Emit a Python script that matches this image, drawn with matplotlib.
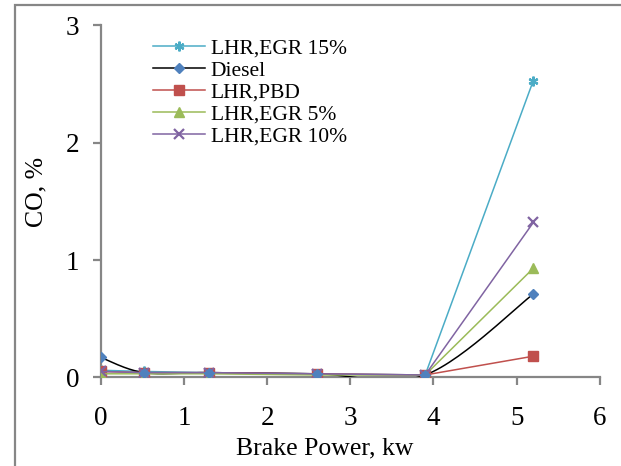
import numpy as np
import matplotlib
matplotlib.use('Agg')
import matplotlib.pyplot as plt
from matplotlib.patches import Rectangle

# Data
brake_power = [0, 0.52, 1.3, 2.6, 3.9, 5.2]
co_egr15 = [0.06, 0.05, 0.04, 0.03, 0.02, 2.53]
co_diesel = [0.17, 0.04, 0.04, 0.03, 0.02, 0.71]
co_pbd = [0.05, 0.04, 0.04, 0.03, 0.02, 0.18]
co_egr5 = [0.03, 0.03, 0.03, 0.02, 0.02, 0.93]
co_egr10 = [0.05, 0.04, 0.04, 0.03, 0.02, 1.32]

SPINE = '#868686'
plt.rcParams['font.family'] = ['Liberation Serif', 'DejaVu Serif']


def smooth(x, y, n=30):
    # Catmull-Rom curve through the points, like Excel's smoothed line
    x = np.asarray(x, float)
    y = np.asarray(y, float)
    px = np.concatenate([[x[0]], x, [x[-1]]])
    py = np.concatenate([[y[0]], y, [y[-1]]])
    xs, ys = [], []
    for i in range(1, len(px) - 2):
        t = np.linspace(0, 1, n)
        for p, out in ((px, xs), (py, ys)):
            p0, p1, p2, p3 = p[i - 1], p[i], p[i + 1], p[i + 2]
            out.extend(0.5 * (2 * p1 + (-p0 + p2) * t
                              + (2 * p0 - 5 * p1 + 4 * p2 - p3) * t ** 2
                              + (-p0 + 3 * p1 - 3 * p2 + p3) * t ** 3))
    return xs, ys


fig = plt.figure(figsize=(6.21, 4.66), dpi=100)
ax = fig.add_axes([0.1622, 0.1903, 0.8038, 0.7552])

# chart area border
fig.patches.append(Rectangle((15 / 621, -0.1), 1.2, 1.1 - 5 / 466, transform=fig.transFigure,
                             fill=False, edgecolor=SPINE, linewidth=1.6))

lw = 1.1
ax.plot(brake_power, co_egr15, color='#4BACC6', lw=lw, marker=(6, 2, 0), ms=7, mew=1.6,
        label='LHR,EGR 15%', zorder=3)
sx, sy = smooth(brake_power, co_diesel)
ax.plot(sx, sy, color='black', lw=lw, zorder=3)
ax.plot(brake_power, co_diesel, color='black', lw=lw, ls='none', marker='D', ms=5.5,
        mfc='#4F81BD', mec='#4F81BD', zorder=4)
ax.plot([], [], color='black', lw=lw, marker='D', ms=5.5, mfc='#4F81BD', mec='#4F81BD',
        label='Diesel')
ax.plot(brake_power, co_pbd, color='#C0504D', lw=lw, marker='s', ms=6.5, label='LHR,PBD', zorder=3)
ax.plot(brake_power, co_egr5, color='#9BBB59', lw=lw, marker='^', ms=7, label='LHR,EGR 5%', zorder=3)
ax.plot(brake_power, co_egr10, color='#8064A2', lw=lw, marker='x', ms=6.5, mew=1.6,
        label='LHR,EGR 10%', zorder=3)

ax.set_xlim(0, 6)
ax.set_ylim(0, 3)
ax.set_xticks(range(7))
ax.set_yticks(range(4))
for s in ('top', 'right'):
    ax.spines[s].set_visible(False)
for s in ('left', 'bottom'):
    ax.spines[s].set_color(SPINE)
    ax.spines[s].set_linewidth(1.6)
ax.tick_params(direction='out', length=5.5, width=1.6, color=SPINE, labelsize=19.5)
ax.tick_params(axis='x', pad=15.5)
ax.tick_params(axis='y', pad=10)
ax.set_xlabel('Brake Power, kw', fontsize=18.5, labelpad=4)
ax.xaxis.label.set_x(0.449)
ax.set_ylabel('CO, %', fontsize=18.5, labelpad=13)
ax.yaxis.label.set_y(0.527)

ax.legend(loc='upper left', bbox_to_anchor=(0.075, 1.005), frameon=False, fontsize=15.5,
          handlelength=2.4, handletextpad=0.28, labelspacing=0.09, borderaxespad=0.3)

fig.savefig('out.png', dpi=100)
